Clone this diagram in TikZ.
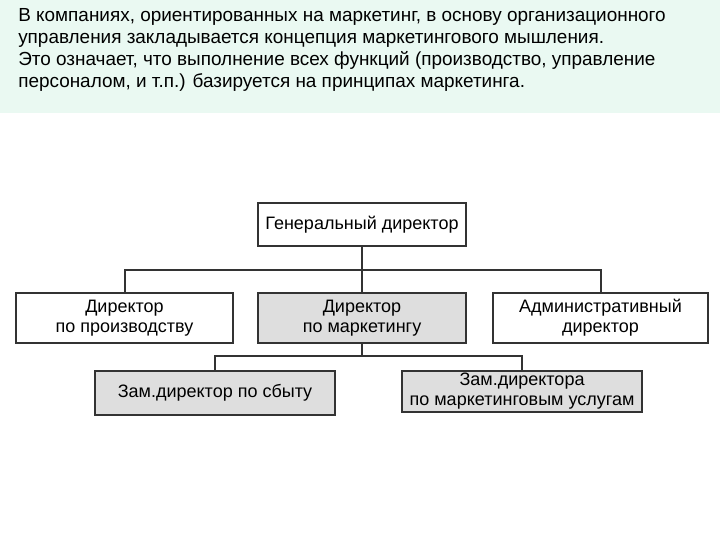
\documentclass[tikz,border=0pt]{standalone}
\usepackage{fontspec}
\setmainfont{Liberation Sans}
\definecolor{band}{RGB}{234,249,242}
\begin{document}
\begin{tikzpicture}[x=0.75pt,y=-0.75pt,
  box/.style={draw=black!80,line width=1.5pt,align=center,font=\fontsize{13.5}{15}\selectfont,inner sep=0pt},
  wbox/.style={box,fill=white},
  gbox/.style={box,fill=black!13},
  conn/.style={draw=black!80,line width=1.5pt}]
\useasboundingbox (0,0) rectangle (720,540);
\fill[band] (0,0) rectangle (720,113);
\node[anchor=north west,align=left,inner sep=0pt,font=\fontsize{14.2}{16.5}\selectfont] (txt) at (18,8)
{В компаниях, ориентированных на маркетинг, в основу организационного\\
управления закладывается концепция маркетингового мышления.\\
Это означает, что выполнение всех функций (производство, управление\\
персоналом, и т.п.) базируется на принципах маркетинга.};
\node[wbox,minimum width=208*0.75pt,minimum height=43*0.75pt] (gd) at (362,224.5) {Генеральный директор};
\node[wbox,minimum width=217*0.75pt,minimum height=50*0.75pt] (dp) at (124.5,318) {Директор\\по производству};
\node[gbox,minimum width=208*0.75pt,minimum height=50*0.75pt] (dm) at (362,318) {Директор\\по маркетингу};
\node[wbox,minimum width=215*0.75pt,minimum height=50*0.75pt] (ad) at (600.5,318) {Административный\\директор};
\node[gbox,minimum width=240*0.75pt,minimum height=44*0.75pt] (zs) at (215,393) {Зам.директор по сбыту};
\node[gbox,minimum width=240*0.75pt,minimum height=41*0.75pt] (zm) at (522,391.5) {Зам.директора\\по маркетинговым услугам};
\coordinate (h1) at (362,270);
\coordinate (h2) at (362,356);
\draw[conn] (gd.south) -- (h1);
\draw[conn] (h1) -| (dp.north);
\draw[conn] (h1) -| (ad.north);
\draw[conn] (h1) -- (dm.north);
\draw[conn] (dm.south) -- (h2);
\draw[conn] (h2) -| (zs.north);
\draw[conn] (h2) -| (zm.north);
\end{tikzpicture}
\end{document}
